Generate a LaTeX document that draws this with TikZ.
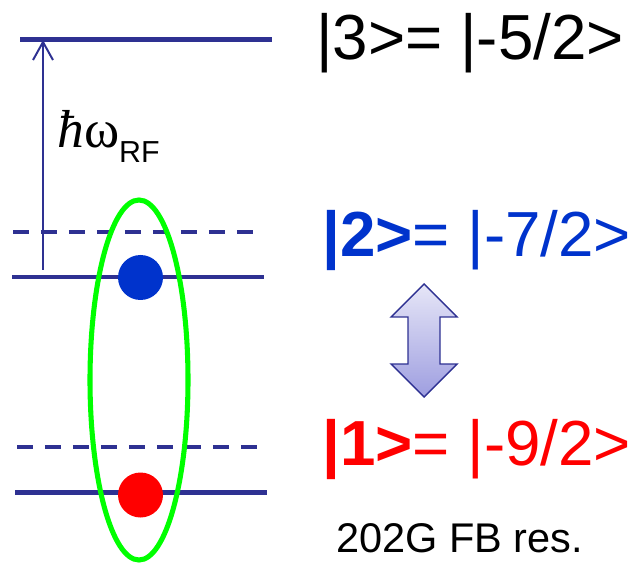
\documentclass[tikz,border=0pt]{standalone}
\usepackage{fontspec}
\setmainfont{Liberation Sans}
\newfontfamily\serifgreek{Liberation Serif}
\usepackage{xcolor}
\usetikzlibrary{arrows.meta}

\definecolor{levelblue}{RGB}{46,49,146}
\definecolor{stateblue}{RGB}{0,51,204}
\definecolor{pairgreen}{RGB}{0,255,0}
\definecolor{arrowtop}{RGB}{230,230,247}
\definecolor{arrowbot}{RGB}{158,158,224}

\tikzset{
  energylevel/.style={levelblue, line width=3.4pt},
  boundlevel/.style={levelblue, line width=3pt, dash pattern=on 11.4pt off 8.5pt},
  statetext/.style={inner sep=0pt, anchor=base west, font=\fontsize{45.3}{50}\selectfont},
}

\begin{document}
\begin{tikzpicture}[x=0.025cm, y=-0.025cm]
    \useasboundingbox (0,0) rectangle (630,563);
    % energy levels
    \draw[energylevel] (20,39.5) -- (272,39.5);
    \draw[boundlevel] (13,232) -- (258,232);
    \draw[energylevel] (12,277) -- (264,277);
    \draw[boundlevel] (17,447) -- (260,447);
    \draw[energylevel] (15,492.5) -- (267,492.5);
    % rf transition
    \coordinate (rfstart) at (43,270);
    \coordinate (rfend) at (43,40);
    \draw[levelblue, line width=1.4pt, -{Straight Barb[length=12.8pt,width=14.2pt]}] (rfstart) -- (rfend);
    \node[inner sep=0pt, anchor=base west] (hw) at (57,148)
        {\serifgreek\fontsize{38}{44}\selectfont{\itshape ħ}ω\raisebox{-10pt}{\rmfamily\fontsize{21.6}{24}\selectfont RF}};
    % atoms and pair
    \fill[stateblue] (140.5,277.5) circle [radius=22.5];
    \fill[red] (140.5,495) circle [radius=22.5];
    \draw[pairgreen, line width=3.6pt] (139,380) ellipse [x radius=49, y radius=180];
    % double arrow
    \draw[levelblue, line width=1pt, top color=arrowtop, bottom color=arrowbot]
        (424,284) -- (457,317) -- (440,317) -- (440,364) -- (457,364) -- (424,397)
        -- (391,364) -- (408,364) -- (408,317) -- (391,317) -- cycle;
    % state labels
    \node[statetext] (s3) at (316,60) {|3>= |-5/2>};
    \node[statetext, stateblue] (s2) at (322,257) {\textbf{|2>}= |-7/2>};
    \node[statetext, red] (s1) at (322,465) {\textbf{|1>}= |-9/2>};
    \node[inner sep=0pt, anchor=base west, font=\fontsize{29.5}{33}\selectfont] (res) at (336,552) {202G FB res.};
\end{tikzpicture}
\end{document}
